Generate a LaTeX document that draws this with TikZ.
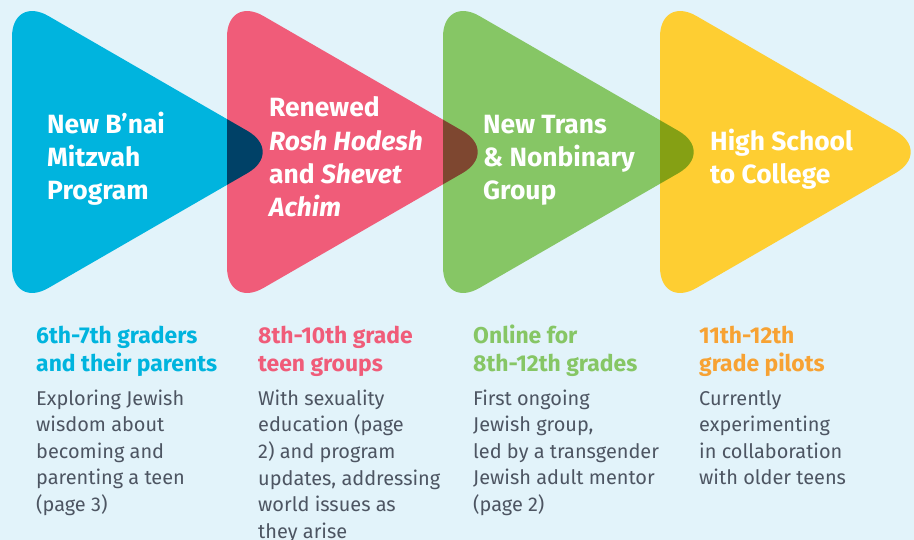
\documentclass[tikz,border=0pt]{standalone}
\usepackage{fontspec}
\setmainfont{Fira Sans}
\usepackage{tikz}
\definecolor{bgblue}{HTML}{E2F3FA}
\definecolor{skyblue}{HTML}{00B4DE}
\definecolor{rosered}{HTML}{F05C79}
\definecolor{leafgreen}{HTML}{86C665}
\definecolor{sunyellow}{HTML}{FECE32}
\definecolor{navy}{HTML}{004167}
\definecolor{brown}{HTML}{7E4730}
\definecolor{olive}{HTML}{85A014}
\definecolor{orange}{HTML}{F7A233}
\definecolor{slate}{HTML}{4D5562}
\pgfdeclarelayer{shapelayer}
\pgfdeclarelayer{textlayer}
\pgfsetlayers{shapelayer,textlayer,main}
% multi-line nodes: base anchor sits on the last line
\tikzstyle{title}=[anchor=base west,align=left,inner sep=0,text=white,font=\bfseries\fontsize{26.5}{33.5}\selectfont]
\tikzstyle{sub}=[anchor=base west,align=left,inner sep=0,font=\bfseries\fontsize{23}{28.5}\selectfont]
\tikzstyle{body}=[anchor=base west,align=left,inner sep=0,text=slate,font=\fontsize{20}{26.6}\selectfont]
\newcommand{\arrowtri}[1]{(#1,-5) -- ++(272,157) -- ++(-272,157) -- cycle}

\begin{document}
\begin{tikzpicture}[x=1bp,y=-1bp]
        \useasboundingbox (0,0) rectangle (914,540);
        \begin{pgfonlayer}{shapelayer}
            \fill [bgblue] (0,0) rectangle (914,540);
            \begin{scope}[rounded corners=42bp]
                \fill [skyblue] \arrowtri{12};
                \fill [rosered] \arrowtri{227};
                \fill [leafgreen] \arrowtri{443};
                \fill [sunyellow] \arrowtri{660};
                % overlaps
                \begin{scope}
                    \clip \arrowtri{12};
                    \fill [navy] \arrowtri{227};
                \end{scope}
                \begin{scope}
                    \clip \arrowtri{227};
                    \fill [brown] \arrowtri{443};
                \end{scope}
                \begin{scope}
                    \clip \arrowtri{443};
                    \fill [olive] \arrowtri{660};
                \end{scope}
            \end{scope}
        \end{pgfonlayer}

        \begin{pgfonlayer}{textlayer}
            \node [style = title] (t1) at (47, 200) {New B’nai\\Mitzvah\\Program};
            \node [style = title] (t2) at (269, 217) {Renewed\\\textit{Rosh Hodesh}\\and \textit{Shevet}\\\textit{Achim}};
            \node [style = title] (t3) at (483, 200) {New Trans\\\& Nonbinary\\Group};
            \node [style = title] (t4) at (710, 183.5) {High School\\to College};

            \node [style = sub, text=skyblue] (s1) at (36, 371.5) {6th-7th graders\\and their parents};
            \node [style = sub, text=rosered] (s2) at (258, 371.5) {8th-10th grade\\teen groups};
            \node [style = sub, text=leafgreen] (s3) at (473, 371.5) {Online for\\8th-12th grades};
            \node [style = sub, text=orange] (s4) at (699, 371.5) {11th-12th\\grade pilots};

            \node [style = body] (b1) at (36, 511.4) {Exploring Jewish\\wisdom about\\becoming and\\parenting a teen\\(page 3)};
            \node [style = body] (b2) at (258, 538) {With sexuality\\education (page\\2) and program\\updates, addressing\\world issues as\\they arise};
            \node [style = body] (b3) at (473, 511.4) {First ongoing\\Jewish group,\\led by a transgender\\Jewish adult mentor\\(page 2)};
            \node [style = body] (b4) at (699, 484.8) {Currently\\experimenting\\in collaboration\\with older teens};
        \end{pgfonlayer}
    \end{tikzpicture}
\end{document}
